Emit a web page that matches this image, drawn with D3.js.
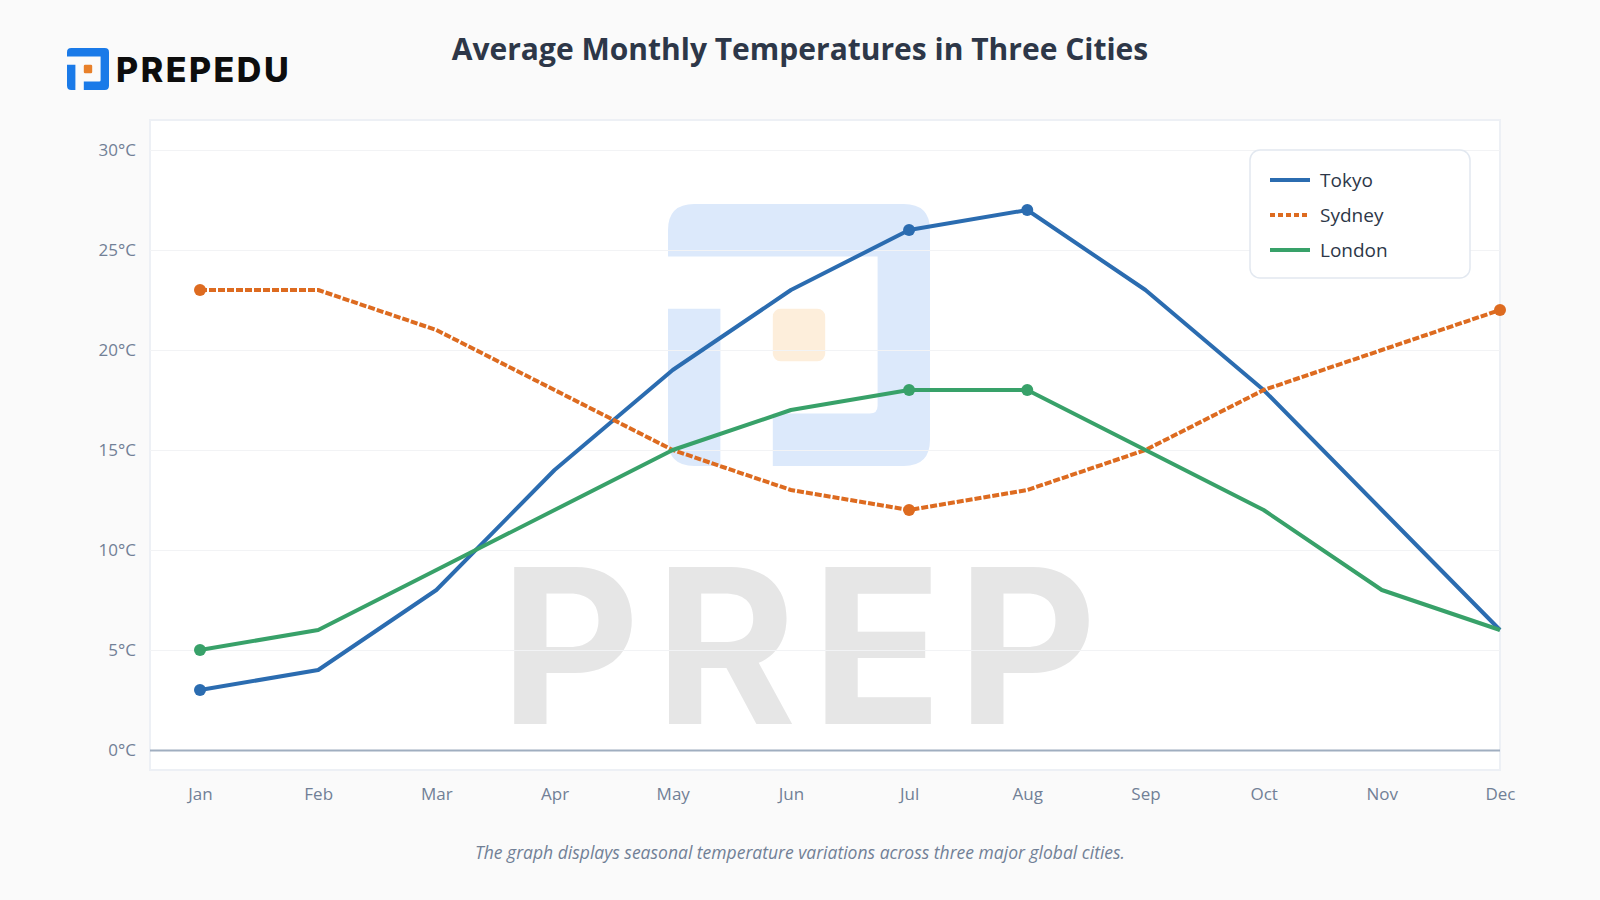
<!DOCTYPE html>
<html>
<head>
<meta charset="utf-8">
<script src="https://cdn.jsdelivr.net/npm/d3@7"></script>
<style>
body { margin:0; background:#fafafa; font-family:"Open Sans","Noto Sans",sans-serif; }
</style>
</head>
<body>
<div id="my_viz"></div>
<script>
const months = ["Jan","Feb","Mar","Apr","May","Jun","Jul","Aug","Sep","Oct","Nov","Dec"]
const tokyo  = [3, 4, 8, 14, 19, 23, 26, 27, 23, 18, 12, 6]
const sydney = [23, 23, 21, 18, 15, 13, 12, 13, 15, 18, 20, 22]
const london = [5, 6, 9, 12, 15, 17, 18, 18, 15, 12, 8, 6]
// months that get a dot marker
const tokyo_marks  = ["Jan","Jul","Aug"]
const sydney_marks = ["Jan","Jul","Dec"]
const london_marks = ["Jan","Jul","Aug"]
const y_ticks = [0, 5, 10, 15, 20, 25, 30]

const series = [
	{name:"Tokyo",  values:tokyo,  marks:tokyo_marks,  color:"#2b6cb0", dash:null},
	{name:"Sydney", values:sydney, marks:sydney_marks, color:"#dd6b20", dash:"7,2"},
	{name:"London", values:london, marks:london_marks, color:"#38a169", dash:null}
]

const width = 1600
const height = 900
const plot = {left:150, right:1500, top:120, bottom:770}

var svg = d3.select("#my_viz")
.append("svg")
.attr("width", width)
.attr("height", height)

svg.append("rect").attr("width", width).attr("height", height).attr("fill", "#fafafa")

// logo shape (blue frame + orange dot), s = size
function logo(g, x, y, s, blue, orange)
{
	var u = s / 5
	var r = s * 0.1
	var p = d3.path()
	// top bar + right column + bottom bar
	p.moveTo(x + r, y)
	p.lineTo(x + s - r, y)
	p.quadraticCurveTo(x + s, y, x + s, y + r)
	p.lineTo(x + s, y + s - r)
	p.quadraticCurveTo(x + s, y + s, x + s - r, y + s)
	p.lineTo(x + 2*u, y + s)
	p.lineTo(x + 2*u, y + 4*u)
	p.lineTo(x + 4*u - r*0.3, y + 4*u)
	p.quadraticCurveTo(x + 4*u, y + 4*u, x + 4*u, y + 4*u - r*0.3)
	p.lineTo(x + 4*u, y + u)
	p.lineTo(x, y + u)
	p.lineTo(x, y + r)
	p.quadraticCurveTo(x, y, x + r, y)
	p.closePath()
	g.append("path").attr("d", p.toString()).attr("fill", blue)
	// left column
	g.append("path")
	.attr("d", "M" + x + "," + (y + 2*u) + "H" + (x + u) + "V" + (y + s) + "H" + (x + r) + "Q" + x + "," + (y + s) + " " + x + "," + (y + s - r) + "Z")
	.attr("fill", blue)
	g.append("rect")
	.attr("x", x + 2*u).attr("y", y + 2*u)
	.attr("width", u).attr("height", u)
	.attr("rx", u * 0.15)
	.attr("fill", orange)
}

// header logo
var head = svg.append("g")
logo(head, 67, 48, 42, "#1a7ae8", "#e8802a")
head.append("text")
.attr("x", 116)
.attr("y", 82)
.style("font-family", "Inter, 'Open Sans', sans-serif")
.style("font-weight", 800)
.style("font-size", "34px")
.style("letter-spacing", "2.5px")
.attr("fill", "#0d0d0d")
.text("PREPEDU")

// title
svg.append("text")
.attr("x", 800)
.attr("y", 60)
.attr("text-anchor", "middle")
.style("font-size", "30px")
.style("font-weight", 700)
.attr("fill", "#2d3748")
.text("Average Monthly Temperatures in Three Cities")

// plot area
svg.append("rect")
.attr("x", plot.left).attr("y", plot.top)
.attr("width", plot.right - plot.left)
.attr("height", plot.bottom - plot.top)
.attr("fill", "#ffffff")
.attr("stroke", "#edf0f5")
.attr("stroke-width", 2)

// watermark
var wm = svg.append("g")
logo(wm, 668, 204, 262, "#dce9fb", "#fdeedb")
wm.append("text")
.attr("x", 500)
.attr("y", 724)
.attr("textLength", 597)
.attr("lengthAdjust", "spacing")
.style("font-family", "Inter, 'Open Sans', sans-serif")
.style("font-weight", 700)
.style("font-size", "216px")
.attr("fill", "#e6e6e6")
.text("PREP")

var xAxis = d3.scalePoint()
.domain(months)
.range([200, plot.right])

var yAxis = d3.scaleLinear()
.domain([0, 30])
.range([750, 150])

// grid
svg.append("g")
.attr("transform", "translate(" + plot.left + ",0)")
.call(d3.axisLeft(yAxis).tickValues(y_ticks).tickSize(-(plot.right - plot.left)).tickFormat(d => d + "°C").tickPadding(14))
.call(g => g.select(".domain").remove())
.call(g => g.selectAll(".tick line").attr("stroke", d => d == 0 ? "#a0aec0" : "#f2f3f5").attr("stroke-width", d => d == 0 ? 2 : 1))
.call(g => g.selectAll(".tick text").attr("fill", "#718096").style("font-size", "17px").style("font-family", "'Open Sans', sans-serif"))

svg.append("g")
.attr("transform", "translate(0," + plot.bottom + ")")
.call(d3.axisBottom(xAxis).tickSize(0).tickPadding(18))
.call(g => g.select(".domain").remove())
.call(g => g.selectAll(".tick text").attr("fill", "#718096").style("font-size", "17px").style("font-family", "'Open Sans', sans-serif"))

// lines
var line = d3.line()
.x((d, i) => xAxis(months[i]))
.y(d => yAxis(d))

series.forEach(function(s) {
	svg.append("path")
	.attr("d", line(s.values))
	.attr("fill", "none")
	.attr("stroke", s.color)
	.attr("stroke-width", 4)
	.attr("stroke-dasharray", s.dash)
	.attr("stroke-linejoin", "round")
	svg.selectAll(null)
	.data(s.marks)
	.enter()
	.append("circle")
	.attr("cx", d => xAxis(d))
	.attr("cy", d => yAxis(s.values[months.indexOf(d)]))
	.attr("r", 6)
	.attr("fill", s.color)
})

// legend
var legend = svg.append("g")
legend.append("rect")
.attr("x", 1250).attr("y", 150)
.attr("width", 220).attr("height", 128)
.attr("rx", 10)
.attr("fill", "#ffffff")
.attr("stroke", "#e2e8f0")
.attr("stroke-width", 1.5)
var legend_element = legend.selectAll(".legend")
.data(series)
.enter()
.append("g")
.attr("class", "legend")
.attr("transform", (d, i) => "translate(1270," + (180 + i * 35) + ")")
legend_element.append("line")
.attr("x1", 0).attr("x2", 40)
.attr("stroke", d => d.color)
.attr("stroke-width", 4)
.attr("stroke-dasharray", d => d.dash ? "5,3" : null)
legend_element.append("text")
.attr("x", 50)
.attr("y", 7)
.style("font-size", "19px")
.attr("fill", "#2d3748")
.text(d => d.name)

// caption
svg.append("text")
.attr("x", 800)
.attr("y", 859)
.attr("text-anchor", "middle")
.style("font-size", "17.5px")
.style("font-style", "italic")
.attr("fill", "#718096")
.text("The graph displays seasonal temperature variations across three major global cities.")
</script>
</body>
</html>
